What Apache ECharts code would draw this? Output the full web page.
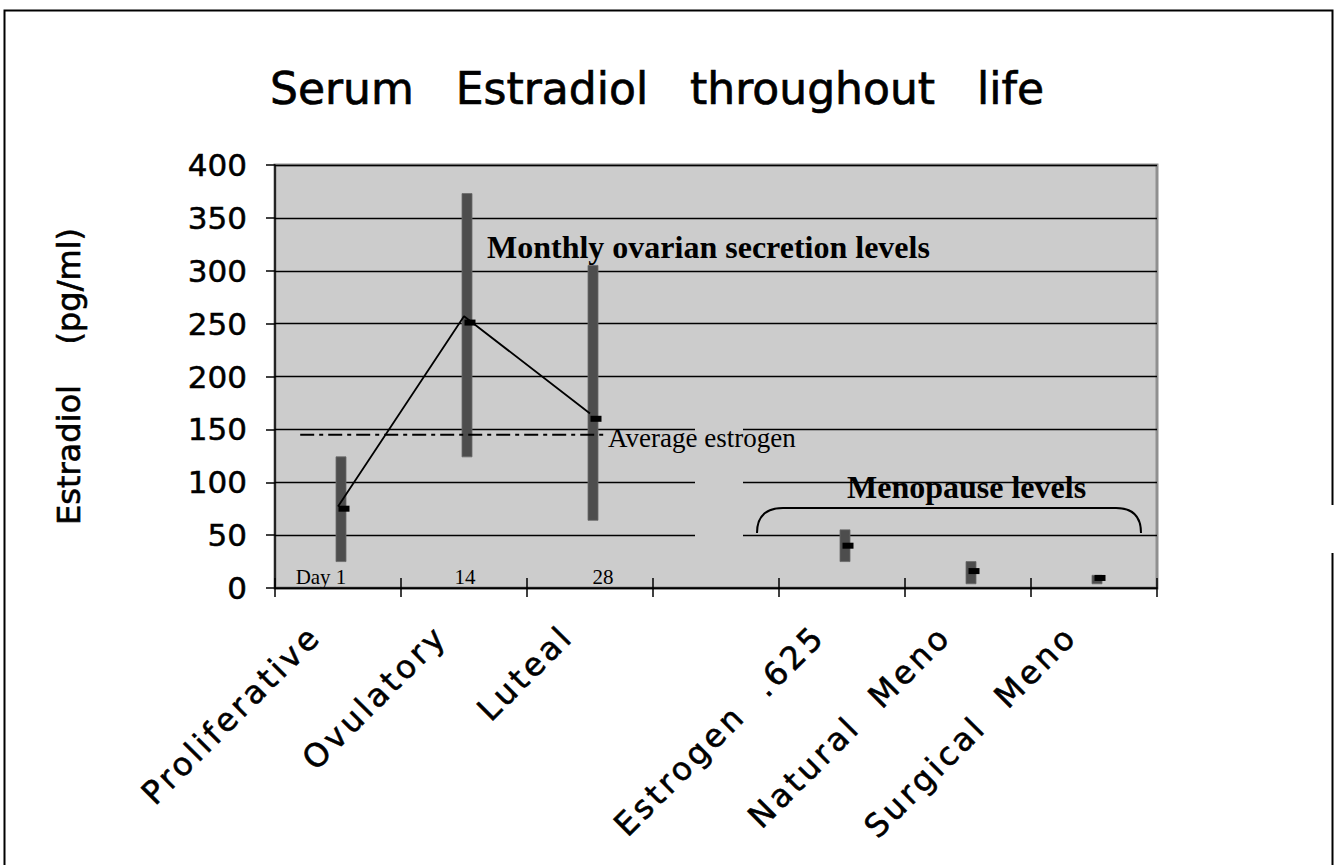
<!DOCTYPE html>
<html>
<head>
<meta charset="utf-8">
<script src="https://cdn.jsdelivr.net/npm/echarts@6/dist/echarts.min.js"></script>
<style>
  html, body { margin: 0; padding: 0; background: #ffffff; }
  #chart { width: 1337px; height: 865px; }
</style>
</head>
<body>
<div id="chart"></div>
<script>
// ---- data ----
const categories = ['Proliferative', 'Ovulatory', 'Luteal', '', 'Estrogen  .625', 'Natural  Meno', 'Surgical  Meno'];
const rangeLow   = [25, 124, 64, null, 25, 4, 4];
const rangeHigh  = [124, 373, 305, null, 55, 25, 12];
const meanValues = [75, 251, 160, null, 40, 16, 9.5];
const cycleLine  = [77, 257, 165, null, null, null, null];
const averageEstrogen = 145;
const dayLabels = ['Day 1', '14', '28'];
const yMin = 0, yMax = 400, yInterval = 50;

// ---- build series data ----
const rangeData = [];
categories.forEach(function (c, i) {
  if (rangeLow[i] != null && rangeHigh[i] != null) rangeData.push([i, rangeLow[i], rangeHigh[i]]);
});
const meanData = [];
categories.forEach(function (c, i) {
  if (meanValues[i] != null) meanData.push([i, meanValues[i]]);
});

const chart = echarts.init(document.getElementById('chart'), null, { renderer: 'svg' });
const sans = '"DejaVu Sans", Verdana, sans-serif';
const serif = '"Liberation Serif", "Times New Roman", serif';

const option = {
  backgroundColor: '#ffffff',
  animation: false,
  title: {
    text: 'Serum   Estradiol   throughout   life',
    left: 265,
    top: 61,
    textStyle: { fontFamily: sans, fontSize: 44, fontWeight: 'normal', color: '#000',
                 textBorderColor: '#000', textBorderWidth: 0.7 }
  },
  grid: {
    left: 275, right: 180, top: 165, bottom: 277,
    show: true, backgroundColor: '#cccccc', borderColor: '#8f8f8f', borderWidth: 3
  },
  xAxis: [
    {
      type: 'category',
      data: categories,
      position: 'bottom',
      boundaryGap: true,
      axisLine: { show: true, lineStyle: { color: '#000', width: 1.5 } },
      axisTick: { show: true, length: 9, lineStyle: { color: '#000', width: 1.5 } },
      axisLabel: {
        interval: 0, rotate: 45, margin: 20,
        fontFamily: sans, fontSize: 32, color: '#000',
        textBorderColor: '#000', textBorderWidth: 0.6,
        padding: [0, 32, 0, 0]
      },
      splitLine: { show: false }
    },
    {
      type: 'value', min: 0, max: 7, show: false
    },
    {
      type: 'category',
      data: categories,
      position: 'bottom',
      boundaryGap: true,
      axisLine: { show: false },
      axisTick: { show: true, inside: true, length: 10, lineStyle: { color: '#000', width: 1.5 } },
      axisLabel: { show: false },
      splitLine: { show: false }
    }
  ],
  yAxis: {
    type: 'value',
    min: yMin, max: yMax, interval: yInterval,
    name: 'Estradiol    (pg/ml)',
    nameLocation: 'middle',
    nameGap: 190,
    nameTextStyle: { fontFamily: sans, fontSize: 32, color: '#000', textBorderColor: '#000', textBorderWidth: 0.6 },
    axisLine: { show: true, lineStyle: { color: '#000', width: 1.5 } },
    axisTick: { show: true, length: 9, lineStyle: { color: '#000', width: 1.5 } },
    axisLabel: { fontFamily: sans, fontSize: 31, color: '#000', margin: 28, textBorderColor: '#000', textBorderWidth: 0.5 },
    splitLine: { show: true, lineStyle: { color: '#000', width: 1.3 } }
  },
  series: [
    {
      name: 'Range',
      type: 'custom',
      xAxisIndex: 0,
      data: rangeData,
      encode: { x: 0, y: [1, 2] },
      z: 3,
      renderItem: function (params, api) {
        const idx = api.value(0);
        const top = api.coord([idx, api.value(2)]);
        const bot = api.coord([idx, api.value(1)]);
        return {
          type: 'rect',
          shape: { x: top[0] - 2, y: top[1], width: 10, height: bot[1] - top[1] },
          style: { fill: '#4d4d4d', stroke: '#6a6a6a', lineWidth: 0.8 }
        };
      }
    },
    {
      name: 'Cycle',
      type: 'line',
      xAxisIndex: 0,
      data: cycleLine,
      showSymbol: false,
      symbol: 'none',
      connectNulls: false,
      z: 4,
      lineStyle: { color: '#000', width: 1.8 }
    },
    {
      name: 'Mean',
      type: 'scatter',
      xAxisIndex: 0,
      data: meanData,
      symbol: 'rect',
      symbolSize: [11, 6],
      symbolOffset: [6, 0],
      z: 5,
      itemStyle: { color: '#000', opacity: 1 }
    },
    {
      name: 'Average estrogen',
      type: 'line',
      xAxisIndex: 1,
      data: [[0.2, averageEstrogen], [2.62, averageEstrogen]],
      symbol: 'none',
      z: 4,
      lineStyle: { color: '#000', width: 2, type: [14, 5, 4, 5] },
      endLabel: {
        show: true,
        formatter: 'Average estrogen',
        distance: 3,
        offset: [0, 3],
        fontFamily: serif, fontSize: 27, color: '#000'
      }
    }
  ],
  graphic: [
    // gap in the grid lines
    { type: 'rect', z: 1, shape: { x: 695, y: 420, width: 48, height: 122 }, style: { fill: '#cccccc' } },
    // outer frame
    { type: 'polyline', z: 10, shape: { points: [[4.5, 865], [4.5, 10.5], [1332.5, 10.5], [1332.5, 505]] }, style: { stroke: '#000', lineWidth: 2, fill: null } },
    { type: 'line', z: 10, shape: { x1: 1332.5, y1: 553, x2: 1332.5, y2: 865 }, style: { stroke: '#000', lineWidth: 2 } },
    // annotation texts
    { type: 'text', z: 10, style: { x: 487, y: 247, text: 'Monthly ovarian secretion levels', font: 'bold 32px ' + serif, fill: '#000', align: 'left', verticalAlign: 'middle' } },
    { type: 'text', z: 10, style: { x: 847, y: 487, text: 'Menopause levels', font: 'bold 32px ' + serif, fill: '#000', align: 'left', verticalAlign: 'middle' } },
    { type: 'text', z: 10, style: { x: 321, y: 577, text: dayLabels[0], font: '21px ' + serif, fill: '#000', align: 'center', verticalAlign: 'middle' } },
    { type: 'text', z: 10, style: { x: 465, y: 577, text: dayLabels[1], font: '21px ' + serif, fill: '#000', align: 'center', verticalAlign: 'middle' } },
    { type: 'text', z: 10, style: { x: 603, y: 577, text: dayLabels[2], font: '21px ' + serif, fill: '#000', align: 'center', verticalAlign: 'middle' } },
    // menopause brace
    { type: 'bezierCurve', z: 10, shape: { x1: 757, y1: 533, cpx1: 757, cpy1: 508, x2: 783, y2: 508 }, style: { stroke: '#000', lineWidth: 2, fill: null } },
    { type: 'line', z: 10, shape: { x1: 783, y1: 508, x2: 1116, y2: 508 }, style: { stroke: '#000', lineWidth: 2 } },
    { type: 'bezierCurve', z: 10, shape: { x1: 1116, y1: 508, cpx1: 1141, cpy1: 508, x2: 1141, y2: 533 }, style: { stroke: '#000', lineWidth: 2, fill: null } }
  ]
};
chart.setOption(option);

// the category labels of the reference are drawn with wide letter spacing
function spaceCategoryLabels() {
  const wanted = new Set(categories.filter(function (c) { return c; }));
  chart.getDom().querySelectorAll('text').forEach(function (el) {
    if (wanted.has(el.textContent)) el.setAttribute('letter-spacing', '3.5');
  });
}
spaceCategoryLabels();
chart.on('finished', spaceCategoryLabels);
setTimeout(spaceCategoryLabels, 0);
</script>
</body>
</html>
